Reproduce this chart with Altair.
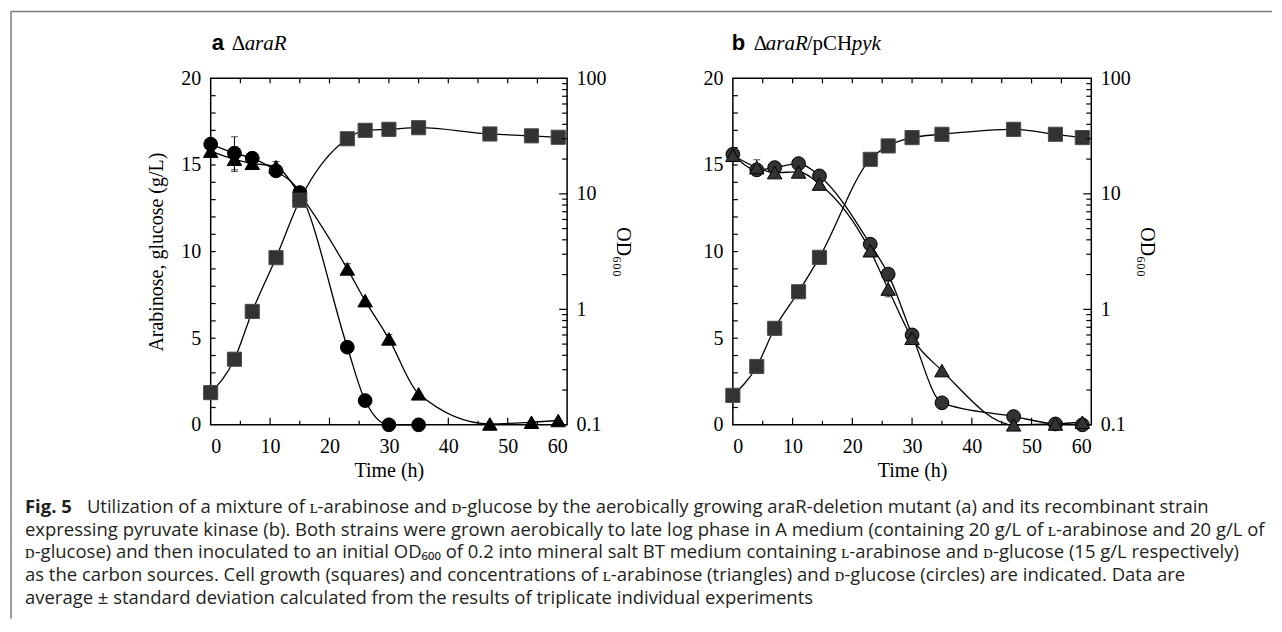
import altair as alt
import pandas as pd

# ---------------- data ----------------
# panel a: ΔaraR
a_t = [0, 4, 7, 11, 15, 23, 26, 30, 35, 47, 54, 58.5]
a_od = [0.19, 0.37, 0.96, 2.8, 8.8, 30, 35.5, 36.2, 37.4, 33, 31.8, 30.9]
a_glc_t = [0, 4, 7, 11, 15, 23, 26, 30, 35]
a_glc = [16.2, 15.68, 15.39, 14.66, 13.41, 4.48, 1.40, 0.0, 0.0]
a_glc_err = [0.1, 0.95, 0.2, 0.15, 0.1, 0.25, 0.1, 0.0, 0.0]
a_ara = [15.8, 15.33, 15.1, 14.9, 13.3, 9.0, 7.17, 4.96, 1.79, 0.05, 0.15, 0.25]
a_ara_err = [0.1, 0.7, 0.2, 0.3, 0.1, 0.3, 0.15, 0.25, 0.1, 0.0, 0.0, 0.0]

# panel b: ΔaraR/pCHpyk
b_t = [0, 4, 7, 11, 14.5, 23, 26, 30, 35, 47, 54, 58.5]
b_od = [0.18, 0.32, 0.685, 1.42, 2.82, 19.9, 26, 30.7, 32.8, 36.2, 32.8, 30.7]
b_glc = [15.62, 14.72, 14.85, 15.08, 14.37, 10.43, 8.70, 5.19, 1.27, 0.48, 0.05, 0.0]
b_glc_err = [0.1, 0.2, 0.35, 0.1, 0.1, 0.1, 0.1, 0.1, 0.1, 0.0, 0.0, 0.0]
b_ara = [15.56, 14.85, 14.56, 14.6, 13.9, 10.05, 7.84, 5.0, 3.13, 0.0, 0.05, 0.15]
b_ara_err = [0.1, 0.45, 0.2, 0.2, 0.1, 0.2, 0.45, 0.1, 0.1, 0.0, 0.0, 0.0]

# axis tick positions
x_labels = [0, 10, 20, 30, 40, 50, 60]
x_major_ticks = [10, 20, 30, 40, 50]
x_minor_ticks = [5, 15, 25, 35, 45, 55]
y_labels = [0, 5, 10, 15, 20]
y_ticks = [1, 2, 3, 4, 5, 6, 7, 8, 9, 10, 11, 12, 13, 14, 15, 16, 17, 18, 19]
log_labels = [0.1, 1, 10, 100]
log_major_ticks = [1, 10]
log_minor_ticks = [0.2, 0.3, 0.4, 0.5, 0.6, 0.7, 0.8, 0.9,
                   2, 3, 4, 5, 6, 7, 8, 9,
                   20, 30, 40, 50, 60, 70, 80, 90]

caption_first = "Utilization of a mixture of ʟ-arabinose and ᴅ-glucose by the aerobically growing araR-deletion mutant (a) and its recombinant strain"
caption_rest = [
    "expressing pyruvate kinase (b). Both strains were grown aerobically to late log phase in A medium (containing 20 g/L of ʟ-arabinose and 20 g/L of",
    "ᴅ-glucose) and then inoculated to an initial OD₆₀₀ of 0.2 into mineral salt BT medium containing ʟ-arabinose and ᴅ-glucose (15 g/L respectively)",
    "as the carbon sources. Cell growth (squares) and concentrations of ʟ-arabinose (triangles) and ᴅ-glucose (circles) are indicated. Data are",
    "average ± standard deviation calculated from the results of triplicate individual experiments",
]

SERIF = "Liberation Serif"
SANS = "Open Sans"
CAP_SIZE = 18.5
H = 347
W_A, W_B = 357, 359


def one():
    return pd.DataFrame({"k": [0]})


def make_panel(W, t_sq, od, t_glc, glc, glc_err, t_ara, ara, ara_err,
               label, parts, left_title, point_fill, frame=False):
    xs = alt.Scale(domain=[0, 60], nice=False, zero=False)
    ys = alt.Scale(domain=[0, 20], nice=False, zero=False)
    ls = alt.Scale(type="log", domain=[0.1, 100], nice=False)

    x_axis = alt.Axis(values=x_labels, ticks=False, domain=False, grid=False,
                      labelFont=SERIF, labelFontSize=20, labelColor="black",
                      labelPadding=12, title="Time (h)", titleFont=SERIF,
                      titleFontSize=20, titleFontWeight="normal",
                      titleColor="black", titlePadding=4)
    y_axis = alt.Axis(values=y_labels, ticks=False, domain=False, grid=False,
                      labelFont=SERIF, labelFontSize=20, labelColor="black",
                      labelPadding=10, title=left_title, titleFont=SERIF,
                      titleFontSize=20, titleFontWeight="normal",
                      titleColor="black", titlePadding=14)
    r_axis = alt.Axis(values=log_labels, orient="right", ticks=False,
                      domain=False, grid=False, labelFont=SERIF,
                      labelFontSize=20, labelColor="black", labelPadding=9,
                      labelExpr="'' + datum.value", title="OD₆₀₀",
                      titleFont=SERIF, titleFontSize=20,
                      titleFontWeight="normal", titleColor="black",
                      titlePadding=6)

    X = alt.X("t:Q", scale=xs, axis=x_axis)

    def Yf(f):
        return alt.Y(f + ":Q", scale=ys, axis=y_axis)

    def Rf(f):
        return alt.Y(f + ":Q", scale=ls, axis=r_axis)

    glc_df = pd.DataFrame({"t": t_glc, "y": glc, "e": glc_err})
    ara_df = pd.DataFrame({"t": t_ara, "y": ara, "e": ara_err})
    err_df = pd.concat([glc_df, ara_df])
    err_df = err_df[err_df["e"] > 0.15].copy()
    err_df["lo"] = err_df["y"] - err_df["e"]
    err_df["hi"] = err_df["y"] + err_df["e"]
    sq_df = pd.DataFrame({"t": t_sq, "od": od})

    line_kw = dict(interpolate="monotone", color="black", strokeWidth=1.3)
    left = [
        alt.Chart(ara_df).mark_line(**line_kw).encode(x=X, y=Yf("y")),
        alt.Chart(glc_df).mark_line(**line_kw).encode(x=X, y=Yf("y")),
        alt.Chart(err_df).mark_rule(color="black", strokeWidth=1).encode(
            x=X, y=Yf("lo"), y2="hi:Q"),
        alt.Chart(err_df).mark_tick(color="black", orient="horizontal",
                                    size=7, thickness=1).encode(x=X, y=Yf("lo")),
        alt.Chart(err_df).mark_tick(color="black", orient="horizontal",
                                    size=7, thickness=1).encode(x=X, y=Yf("hi")),
        alt.Chart(glc_df).mark_point(shape="circle", filled=True, size=190,
                                     fill=point_fill, stroke="black",
                                     strokeWidth=1, opacity=1).encode(x=X, y=Yf("y")),
        alt.Chart(ara_df).mark_point(shape="triangle-up", filled=True, size=210,
                                     fill=point_fill, stroke="black",
                                     strokeWidth=1, opacity=1).encode(x=X, y=Yf("y")),
        # inward ticks: left, top, bottom
        alt.Chart(pd.DataFrame({"y": y_ticks})).mark_rule(
            color="black", strokeWidth=1.2).encode(
            y=Yf("y"), x=alt.value(0), x2=alt.value(5)),
        alt.Chart(pd.DataFrame({"t": x_major_ticks + x_minor_ticks})).mark_rule(
            color="black", strokeWidth=1.2).encode(
            x=X, y=alt.value(0), y2=alt.value(5)),
        alt.Chart(pd.DataFrame({"t": x_major_ticks})).mark_rule(
            color="black", strokeWidth=1.2).encode(
            x=X, y=alt.value(H), y2=alt.value(H - 7)),
        alt.Chart(pd.DataFrame({"t": x_minor_ticks})).mark_rule(
            color="black", strokeWidth=1.2).encode(
            x=X, y=alt.value(H), y2=alt.value(H - 4)),
        # panel label
        alt.Chart(one()).mark_text(font="Liberation Sans", fontSize=22,
                                   fontWeight="bold", align="left",
                                   baseline="alphabetic", color="black").encode(
            x=alt.value(label[1]), y=alt.value(-28), text=alt.value(label[0])),
    ]
    for txt, xpos, style in parts:
        left.append(
            alt.Chart(one()).mark_text(font=SERIF, fontSize=21, fontStyle=style,
                                       align="left", baseline="alphabetic",
                                       color="black").encode(
                x=alt.value(xpos), y=alt.value(-28), text=alt.value(txt)))
    if frame:
        # figure frame (top and left edges)
        left.append(alt.Chart(one()).mark_rule(color="#7a7a7a", strokeWidth=1.5).encode(
            x=alt.value(-200), x2=alt.value(1063), y=alt.value(-67)))
        left.append(alt.Chart(one()).mark_rule(color="#7a7a7a", strokeWidth=1.5).encode(
            x=alt.value(-200), y=alt.value(-67), y2=alt.value(541)))
        # caption
        left.append(alt.Chart(one()).mark_text(
            font=SANS, fontSize=CAP_SIZE, fontWeight="bold", align="left",
            baseline="alphabetic", color="#231f20").encode(
            x=alt.value(-186), y=alt.value(435), text=alt.value("Fig. 5")))
        left.append(alt.Chart(one()).mark_text(
            font=SANS, fontSize=CAP_SIZE, align="left",
            baseline="alphabetic", color="#231f20").encode(
            x=alt.value(-124), y=alt.value(435), text=alt.value(caption_first)))
        left.append(alt.Chart(one()).mark_text(
            font=SANS, fontSize=CAP_SIZE, align="left", baseline="alphabetic",
            lineHeight=22.8, color="#231f20").encode(
            x=alt.value(-186), y=alt.value(458), text=alt.value(caption_rest)))

    right = [
        alt.Chart(sq_df).mark_line(**line_kw).encode(x=X, y=Rf("od")),
        alt.Chart(sq_df).mark_point(shape="square", filled=True, size=200,
                                    fill="#333333", stroke="#4a4a4a",
                                    strokeWidth=1, opacity=1).encode(x=X, y=Rf("od")),
        alt.Chart(pd.DataFrame({"od": log_minor_ticks})).mark_rule(
            color="black", strokeWidth=1.2).encode(
            y=Rf("od"), x=alt.value(W), x2=alt.value(W - 5)),
        alt.Chart(pd.DataFrame({"od": log_major_ticks})).mark_rule(
            color="black", strokeWidth=1.2).encode(
            y=Rf("od"), x=alt.value(W), x2=alt.value(W - 8)),
    ]

    return alt.layer(alt.layer(*left), alt.layer(*right)).resolve_scale(
        y="independent").properties(width=W, height=H)


panel_a = make_panel(W_A, a_t, a_od, a_glc_t, a_glc, a_glc_err, a_t, a_ara, a_ara_err,
                     ("a", 1), [("Δ", 21, "normal"), ("araR", 34, "italic")],
                     "Arabinose, glucose (g/L)", "black", frame=True)
panel_b = make_panel(W_B, b_t, b_od, b_t, b_glc, b_glc_err, b_t, b_ara, b_ara_err,
                     ("b", -1), [("Δ", 21, "normal"), ("araR", 33, "italic"),
                                 ("/pCH", 74, "normal"), ("pyk", 119, "italic")],
                     "", "#333333")

chart = alt.hconcat(panel_a, panel_b, spacing=166, bounds="flush").properties(
    padding={"left": 1, "top": 1, "right": 0, "bottom": 0}
).configure_view(stroke="black", strokeWidth=1.5)

chart.save("out.html", embed_options={"renderer": "svg", "actions": False})
